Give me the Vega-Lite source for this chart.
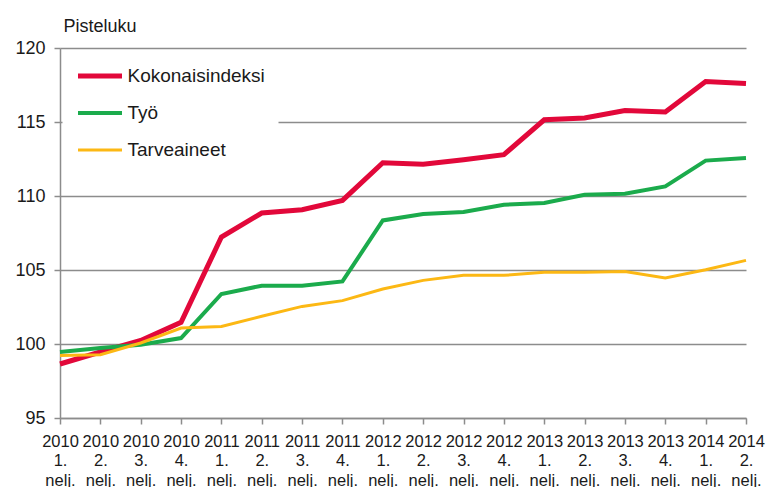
{
  "$schema": "https://vega.github.io/schema/vega-lite/v6.json",
  "width": 686,
  "height": 370,
  "autosize": "none",
  "padding": {"left": 60, "top": 48, "right": 20, "bottom": 69},
  "background": "white",
  "config": {
    "view": {"stroke": null},
    "font": "Liberation Sans"
  },
  "data": {
    "values": [
      {"q": "2010|1.|nelj.", "s": "Kokonaisindeksi", "v": 98.65},
      {"q": "2010|2.|nelj.", "s": "Kokonaisindeksi", "v": 99.46},
      {"q": "2010|3.|nelj.", "s": "Kokonaisindeksi", "v": 100.24},
      {"q": "2010|4.|nelj.", "s": "Kokonaisindeksi", "v": 101.46},
      {"q": "2011|1.|nelj.", "s": "Kokonaisindeksi", "v": 107.23},
      {"q": "2011|2.|nelj.", "s": "Kokonaisindeksi", "v": 108.85},
      {"q": "2011|3.|nelj.", "s": "Kokonaisindeksi", "v": 109.07},
      {"q": "2011|4.|nelj.", "s": "Kokonaisindeksi", "v": 109.7},
      {"q": "2012|1.|nelj.", "s": "Kokonaisindeksi", "v": 112.25},
      {"q": "2012|2.|nelj.", "s": "Kokonaisindeksi", "v": 112.14},
      {"q": "2012|3.|nelj.", "s": "Kokonaisindeksi", "v": 112.45},
      {"q": "2012|4.|nelj.", "s": "Kokonaisindeksi", "v": 112.79},
      {"q": "2013|1.|nelj.", "s": "Kokonaisindeksi", "v": 115.15},
      {"q": "2013|2.|nelj.", "s": "Kokonaisindeksi", "v": 115.27},
      {"q": "2013|3.|nelj.", "s": "Kokonaisindeksi", "v": 115.78},
      {"q": "2013|4.|nelj.", "s": "Kokonaisindeksi", "v": 115.67},
      {"q": "2014|1.|nelj.", "s": "Kokonaisindeksi", "v": 117.74},
      {"q": "2014|2.|nelj.", "s": "Kokonaisindeksi", "v": 117.6},
      {"q": "2010|1.|nelj.", "s": "Työ", "v": 99.46},
      {"q": "2010|2.|nelj.", "s": "Työ", "v": 99.73},
      {"q": "2010|3.|nelj.", "s": "Työ", "v": 99.95},
      {"q": "2010|4.|nelj.", "s": "Työ", "v": 100.4},
      {"q": "2011|1.|nelj.", "s": "Työ", "v": 103.38},
      {"q": "2011|2.|nelj.", "s": "Työ", "v": 103.94},
      {"q": "2011|3.|nelj.", "s": "Työ", "v": 103.94},
      {"q": "2011|4.|nelj.", "s": "Työ", "v": 104.23},
      {"q": "2012|1.|nelj.", "s": "Työ", "v": 108.35},
      {"q": "2012|2.|nelj.", "s": "Työ", "v": 108.78},
      {"q": "2012|3.|nelj.", "s": "Työ", "v": 108.92},
      {"q": "2012|4.|nelj.", "s": "Työ", "v": 109.41},
      {"q": "2013|1.|nelj.", "s": "Työ", "v": 109.53},
      {"q": "2013|2.|nelj.", "s": "Työ", "v": 110.09},
      {"q": "2013|3.|nelj.", "s": "Työ", "v": 110.16},
      {"q": "2013|4.|nelj.", "s": "Työ", "v": 110.65},
      {"q": "2014|1.|nelj.", "s": "Työ", "v": 112.39},
      {"q": "2014|2.|nelj.", "s": "Työ", "v": 112.57},
      {"q": "2010|1.|nelj.", "s": "Tarveaineet", "v": 99.23},
      {"q": "2010|2.|nelj.", "s": "Tarveaineet", "v": 99.28},
      {"q": "2010|3.|nelj.", "s": "Tarveaineet", "v": 100.07},
      {"q": "2010|4.|nelj.", "s": "Tarveaineet", "v": 101.08},
      {"q": "2011|1.|nelj.", "s": "Tarveaineet", "v": 101.19},
      {"q": "2011|2.|nelj.", "s": "Tarveaineet", "v": 101.87},
      {"q": "2011|3.|nelj.", "s": "Tarveaineet", "v": 102.54},
      {"q": "2011|4.|nelj.", "s": "Tarveaineet", "v": 102.93},
      {"q": "2012|1.|nelj.", "s": "Tarveaineet", "v": 103.72},
      {"q": "2012|2.|nelj.", "s": "Tarveaineet", "v": 104.3},
      {"q": "2012|3.|nelj.", "s": "Tarveaineet", "v": 104.64},
      {"q": "2012|4.|nelj.", "s": "Tarveaineet", "v": 104.64},
      {"q": "2013|1.|nelj.", "s": "Tarveaineet", "v": 104.84},
      {"q": "2013|2.|nelj.", "s": "Tarveaineet", "v": 104.84},
      {"q": "2013|3.|nelj.", "s": "Tarveaineet", "v": 104.9},
      {"q": "2013|4.|nelj.", "s": "Tarveaineet", "v": 104.46},
      {"q": "2014|1.|nelj.", "s": "Tarveaineet", "v": 105.02},
      {"q": "2014|2.|nelj.", "s": "Tarveaineet", "v": 105.65}
    ]
  },
  "mark": {"type": "line", "strokeJoin": "miter", "strokeCap": "butt"},
  "encoding": {
    "x": {
      "field": "q",
      "type": "nominal",
      "sort": null,
      "scale": {"type": "point", "padding": 0},
      "axis": {
        "title": null,
        "labelAngle": 0,
        "labelExpr": "split(datum.label, '|')",
        "labelFont": "Liberation Sans",
        "labelFontSize": 16.5,
        "labelLineHeight": 19.5,
        "labelColor": "#1a1a1a",
        "labelBaseline": "top",
        "labelPadding": 9,
        "labelOverlap": false,
        "labelBound": false,
        "labelFlush": false,
        "domainColor": "#8c8c8c",
        "domainWidth": 1.5,
        "tickColor": "#8c8c8c",
        "tickWidth": 1.5,
        "tickSize": 6,
        "grid": false
      }
    },
    "y": {
      "field": "v",
      "type": "quantitative",
      "scale": {"domain": [95, 120], "nice": false, "zero": false},
      "axis": {
        "values": [95, 100, 105, 110, 115, 120],
        "title": "Pisteluku",
        "titleAngle": 0,
        "titleAlign": "left",
        "titleBaseline": "alphabetic",
        "titleX": 3,
        "titleY": -17,
        "titleFont": "Liberation Sans",
        "titleFontSize": 18,
        "titleFontWeight": "normal",
        "titleColor": "#1a1a1a",
        "labelFont": "Liberation Sans",
        "labelFontSize": 18,
        "labelColor": "#1a1a1a",
        "labelPadding": 9,
        "domainColor": "#8c8c8c",
        "domainWidth": 1.5,
        "tickColor": "#8c8c8c",
        "tickWidth": 1.5,
        "tickSize": 6,
        "grid": true,
        "gridColor": "#8c8c8c",
        "gridWidth": 1.5
      }
    },
    "color": {
      "field": "s",
      "type": "nominal",
      "scale": {
        "domain": ["Kokonaisindeksi", "Työ", "Tarveaineet"],
        "range": ["#e2083a", "#1bab4c", "#fcb814"]
      },
      "legend": {
        "title": null,
        "orient": "none",
        "legendX": 2.5,
        "legendY": 4,
        "fillColor": "white",
        "padding": 13,
        "symbolType": "stroke",
        "symbolSize": 1936,
        "symbolStrokeWidth": 3,
        "labelFont": "Liberation Sans",
        "labelFontSize": 19,
        "labelColor": "#1a1a1a",
        "labelOffset": 3,
        "rowPadding": 16,
        "labelLimit": 300,
        "encode": {
          "symbols": {"update": {"y": {"value": 11}}},
          "labels": {"update": {"y": {"value": 11}}}
        }
      }
    },
    "strokeWidth": {
      "field": "s",
      "type": "nominal",
      "scale": {
        "domain": ["Kokonaisindeksi", "Työ", "Tarveaineet"],
        "range": [5, 3, 3]
      },
      "legend": null
    },
    "order": {"field": "s", "sort": "descending"}
  }
}
